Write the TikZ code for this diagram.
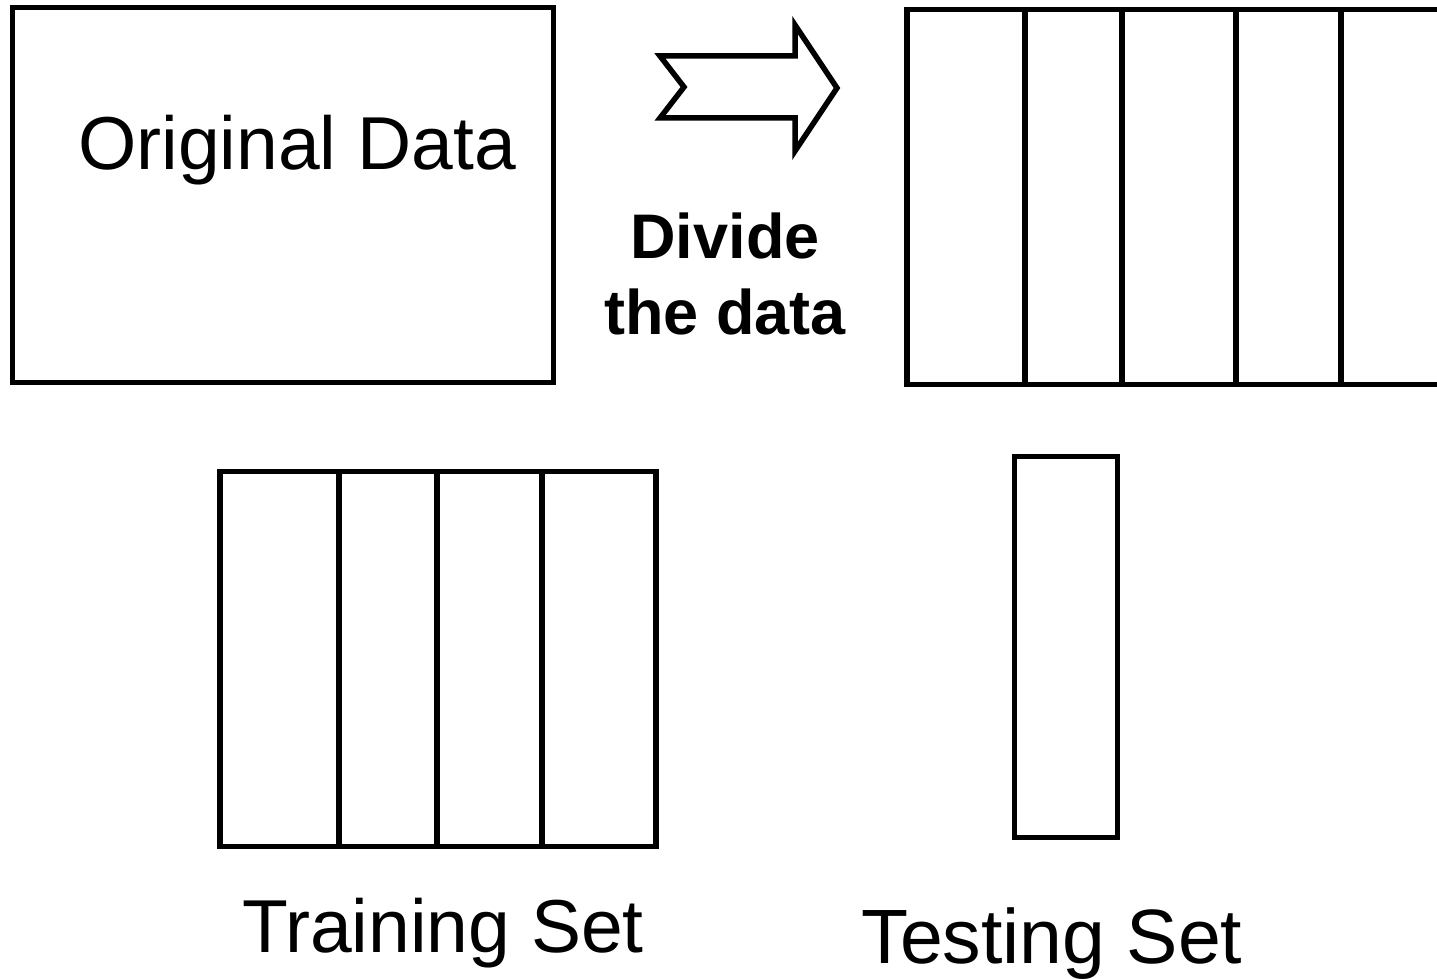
\documentclass[tikz,border=0pt]{standalone}
\usepackage{fontspec}
\setmainfont{Liberation Sans}
\usepackage{tikz}

\tikzset{
  databox/.style={draw, line width=5.5pt, inner sep=0pt},
  bigtext/.style={font=\fontsize{75}{90}\selectfont, align=center},
  midtext/.style={font=\fontsize{63}{76}\selectfont\bfseries, align=center}
}

\begin{document}
\begin{tikzpicture}[x=1pt,y=1pt,yscale=-1,xscale=1]
\useasboundingbox (0,0) rectangle (1437,979);
\clip (0,0) rectangle (1437,979);

%Shape: Rectangle [original]
\node (orig) [databox, minimum width=541pt, minimum height=375pt] at (283,195) {};
% Text Node
\node (origtxt) [bigtext] at (297,150) {Original Data};

%Shape: Arrow [divide]
\draw [line width=5.5pt, line join=miter]  (660,56) -- (795,56) -- (795,25) -- (837,88) -- (795,151) -- (795,118) -- (660,118) -- (684,87) -- cycle ;
% Text Node
\node (divtxt) [midtext] at (725,274) {Divide\\the data};

%Shape: Rectangle [folds]
\node (folds) [databox, minimum width=560pt, minimum height=375pt] at (1187,197) {};
%Straight Lines [fold dividers]
\foreach \xx in {1025,1122,1236,1341}
  \draw [line width=5.5pt] (\xx,10) -- (\xx,385);

%Shape: Rectangle [training]
\node (train) [databox, minimum width=436pt, minimum height=375pt] at (438,659) {};
%Straight Lines [training dividers]
\foreach \xx in {339,437,542}
  \draw [line width=5.5pt] (\xx,471) -- (\xx,848);
% Text Node
\node (traintxt) [bigtext] at (443,933) {Training Set};

%Shape: Rectangle [testing]
\node (test) [databox, minimum width=103pt, minimum height=381pt] at (1066,647) {};
% Text Node
\node (testtxt) [font=\fontsize{77}{90}\selectfont] at (1052,944) {Testing Set};
\end{tikzpicture}
\end{document}
